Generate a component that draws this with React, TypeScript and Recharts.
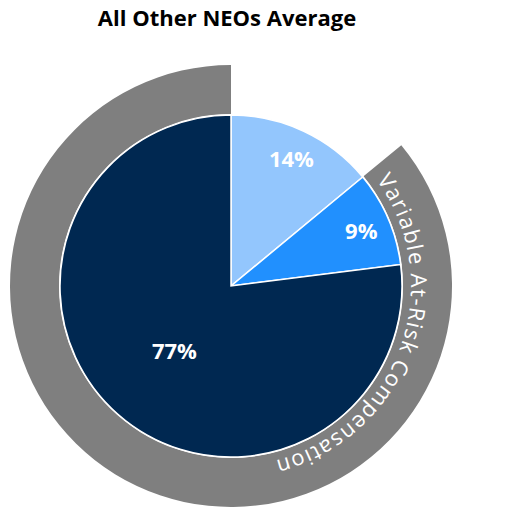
import React from 'react';
import { PieChart, Pie, Cell } from 'recharts';

// Inner pie: pay mix
const payNames = ['Base Salary', 'Annual Incentive', 'Long-Term Incentive'];
const payValues = [14, 9, 77];
const payColors = ['#93C6FD', '#2190FE', '#002851'];

// Outer ring: fixed vs variable at-risk
const ringNames = ['Fixed', 'Variable At-Risk Compensation'];
const ringValues = [14, 86];
const ringColors = ['transparent', '#7F7F7F'];

const TITLE = 'All Other NEOs Average';

const CHART_WIDTH = 524;
const CHART_HEIGHT = 508;
const CX = 231;
const CY = 286;
const PIE_RADIUS = 171;
const RING_INNER = 172;
const RING_OUTER = 221;

const payData = payNames.map((name, i) => ({ name, value: payValues[i] }));
const ringData = ringNames.map((name, i) => ({ name, value: ringValues[i] }));

const RAD = Math.PI / 180;

const renderPayLabel = (props: any) => {
  const { cx, cy, midAngle, outerRadius, percent } = props;
  const r = percent > 0.5 ? outerRadius * 0.5 : outerRadius * 0.83;
  const x = cx + r * Math.cos(-midAngle * RAD);
  const y = cy + r * Math.sin(-midAngle * RAD);
  return (
    <text
      x={x}
      y={y}
      fill="#fff"
      textAnchor="middle"
      dominantBaseline="central"
      fontFamily="'Open Sans', sans-serif"
      fontWeight={700}
      fontSize={22}
    >
      {`${Math.round(percent * 100)}%`}
    </text>
  );
};

const renderRingLabel = (props: any) => {
  const { cx, cy, index, name } = props;
  if (index !== 1) return null;
  const r = 180;
  const a1 = 50;
  const a2 = -90;
  const x1 = cx + r * Math.cos(a1 * RAD);
  const y1 = cy - r * Math.sin(a1 * RAD);
  const x2 = cx + r * Math.cos(a2 * RAD);
  const y2 = cy - r * Math.sin(a2 * RAD);
  const d = `M ${x1} ${y1} A ${r} ${r} 0 0 1 ${x2} ${y2}`;
  return (
    <g>
      <defs>
        <path id="ringArc" d={d} fill="none" />
      </defs>
      <text fill="#fff" fontFamily="'Open Sans', sans-serif" fontSize={22} letterSpacing={1.3}>
        <textPath href="#ringArc" startOffset="50%" textAnchor="middle">
          {name}
        </textPath>
      </text>
    </g>
  );
};

const App: React.FC = () => {
  return (
    <div style={{ position: 'absolute', left: 0, top: 0, width: CHART_WIDTH, height: CHART_HEIGHT, background: '#fff' }}>
      <div
        style={{
          position: 'absolute',
          left: 0,
          top: 2,
          width: 454,
          textAlign: 'center',
          fontFamily: "'Open Sans', sans-serif",
          fontWeight: 700,
          fontSize: 22,
          color: '#000',
        }}
      >
        {TITLE}
      </div>
      <PieChart
        width={CHART_WIDTH}
        height={CHART_HEIGHT}
        margin={{ top: 0, right: 0, bottom: 0, left: 0 }}
        style={{ position: 'absolute', left: 0, top: 0 }}
      >
        <Pie
          data={ringData}
          dataKey="value"
          nameKey="name"
          cx={CX}
          cy={CY}
          innerRadius={RING_INNER}
          outerRadius={RING_OUTER}
          startAngle={90}
          endAngle={-270}
          stroke="none"
          label={renderRingLabel}
          labelLine={false}
          isAnimationActive={false}
        >
          {ringData.map((_, i) => (
            <Cell key={`ring-${i}`} fill={ringColors[i]} />
          ))}
        </Pie>
        <Pie
          data={payData}
          dataKey="value"
          nameKey="name"
          cx={CX}
          cy={CY}
          outerRadius={PIE_RADIUS}
          startAngle={90}
          endAngle={-270}
          stroke="#fff"
          strokeWidth={1.5}
          label={renderPayLabel}
          labelLine={false}
          isAnimationActive={false}
        >
          {payData.map((_, i) => (
            <Cell key={`pay-${i}`} fill={payColors[i]} />
          ))}
        </Pie>
      </PieChart>
    </div>
  );
};

export default App;
